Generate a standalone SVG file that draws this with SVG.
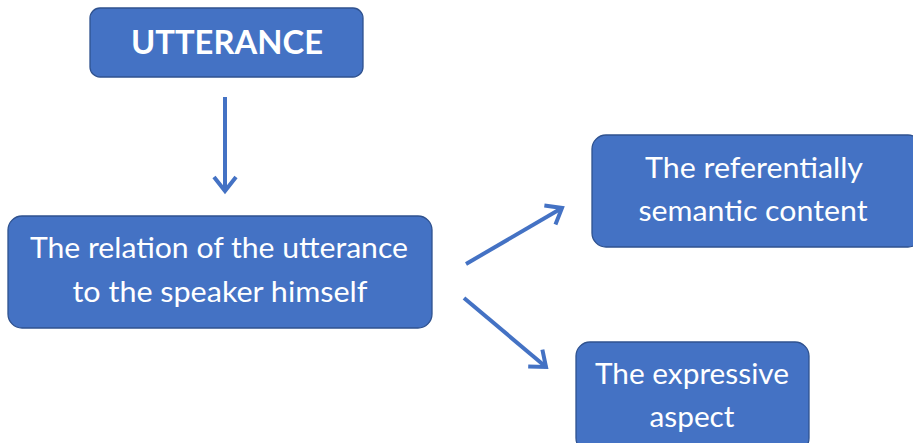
<svg xmlns="http://www.w3.org/2000/svg" width="913" height="443" viewBox="0 0 913 443">
<defs>
<style>
.box{fill:#4472C4;stroke:#2F528F;stroke-width:1.3}
.t{fill:#FFFFFF;font-family:Lato,"Open Sans","Liberation Sans",sans-serif;font-size:29px;text-anchor:middle}
.tb{fill:#FFFFFF;font-family:Lato,"Open Sans","Liberation Sans",sans-serif;font-size:33px;font-weight:bold;text-anchor:middle}
.c{stroke:#4472C4;stroke-width:4;fill:none}
</style>
<marker id="ah2" viewBox="-2 -2 26 26" refX="18" refY="11" markerWidth="26" markerHeight="26" markerUnits="userSpaceOnUse" orient="auto">
<path d="M4,0 L18,11 L4,22" fill="none" stroke="#4472C4" stroke-width="4"/>
</marker>
</defs>
<g id="connectors">
<line class="c" x1="225" y1="97" x2="225" y2="191" marker-end="url(#ah2)"/>
<line class="c" x1="466" y1="264" x2="562" y2="208" marker-end="url(#ah2)"/>
<line class="c" x1="464" y1="298" x2="546" y2="367" marker-end="url(#ah2)"/>
</g>
<g id="utterance">
<rect class="box" x="90" y="8" width="273" height="69" rx="10"/>
<text class="tb" x="227" y="54" textLength="192" lengthAdjust="spacingAndGlyphs">UTTERANCE</text>
</g>
<g id="relation">
<rect class="box" x="8" y="216" width="424" height="112" rx="14"/>
<text class="t" x="219" y="258" textLength="378" lengthAdjust="spacingAndGlyphs">The relation of the utterance</text>
<text class="t" x="220" y="302" textLength="295" lengthAdjust="spacingAndGlyphs">to the speaker himself</text>
</g>
<g id="referential">
<rect class="box" x="592" y="135" width="330" height="112" rx="14"/>
<text class="t" x="754" y="178" textLength="218" lengthAdjust="spacingAndGlyphs">The referentially</text>
<text class="t" x="753" y="221" textLength="229" lengthAdjust="spacingAndGlyphs">semantic content</text>
</g>
<g id="expressive">
<rect class="box" x="576" y="342" width="233" height="110" rx="14"/>
<text class="t" x="692" y="384" textLength="194" lengthAdjust="spacingAndGlyphs">The expressive</text>
<text class="t" x="692" y="427" textLength="85" lengthAdjust="spacingAndGlyphs">aspect</text>
</g>
</svg>
